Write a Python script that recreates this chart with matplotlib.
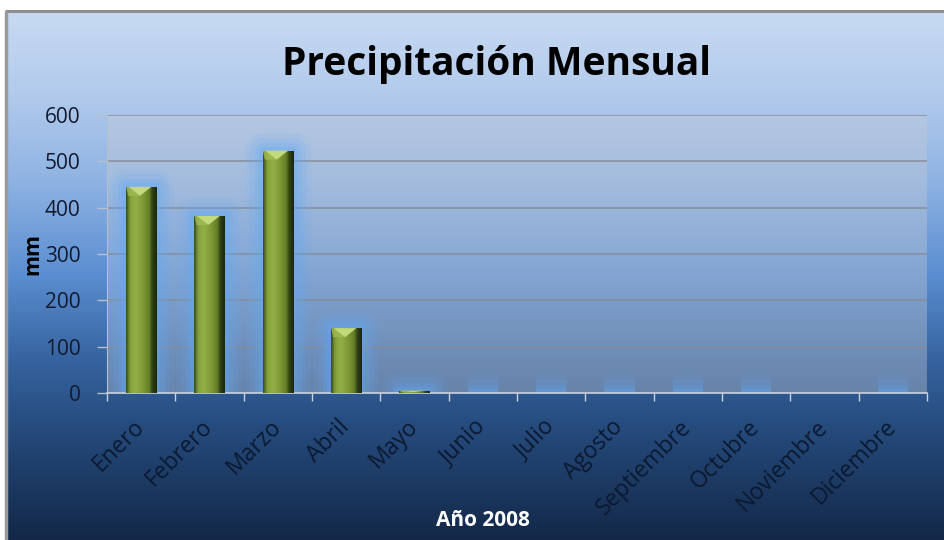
import numpy as np
import matplotlib
matplotlib.use("Agg")
import matplotlib.pyplot as plt
from matplotlib.colors import LinearSegmentedColormap
from matplotlib.patches import Rectangle, Polygon

plt.rcParams['font.family'] = ['Open Sans', 'DejaVu Sans']

# Monthly rainfall for 2008 (mm); November has no record
months = ["Enero", "Febrero", "Marzo", "Abril", "Mayo", "Junio", "Julio",
          "Agosto", "Septiembre", "Octubre", "Noviembre", "Diciembre"]
rain_mm = [445, 382, 523, 140, 5, 0, 0, 0, 0, 0, np.nan, 0]
y_ticks = [0, 100, 200, 300, 400, 500, 600]

W, H, DPI = 944, 540, 100
fig = plt.figure(figsize=(W / DPI, H / DPI), dpi=DPI, facecolor="white")

# ---- chart frame with vertical blue gradient ----
bg = fig.add_axes([0, 0, 1, 1], zorder=0)
bg.set_xlim(0, W)
bg.set_ylim(H, 0)
bg.axis("off")
frame_cmap = LinearSegmentedColormap.from_list(
    "frame",
    [(0.00, "#c7daf2"), (0.15, "#b3cbec"), (0.32, "#8fb3e3"),
     (0.50, "#5a8dd0"), (0.66, "#36639f"), (0.80, "#24497a"),
     (1.00, "#132848")])
grad = np.linspace(0, 1, 256).reshape(-1, 1)
bg.imshow(grad, cmap=frame_cmap, extent=[5, W, H, 11], aspect="auto",
          interpolation="bicubic")
bg.plot([5, W], [11, 11], color="#8e8e8e", lw=2.2, solid_capstyle="butt")
bg.plot([5.5, 5.5], [11, H], color="#9a9a9a", lw=2.5, solid_capstyle="butt")

# ---- plot area ----
ax_l, ax_r, ax_t, ax_b = 107, 927, 115, 393
ax = fig.add_axes([ax_l / W, 1 - ax_b / H, (ax_r - ax_l) / W, (ax_b - ax_t) / H],
                  zorder=1)
ax.patch.set_facecolor((0.78, 0.80, 0.84))
ax.patch.set_alpha(0.38)

x = np.arange(len(months))
bar_w = 0.44
bars = ax.bar(x, np.nan_to_num(rain_mm), width=bar_w, color="none",
              edgecolor="none", zorder=3)

px_per_unit = (ax_b - ax_t) / 600.0
bevel = 9 / px_per_unit

bar_cmap = LinearSegmentedColormap.from_list(
    "barface",
    [(0.00, "#34461a"), (0.07, "#5f7a27"), (0.14, "#86a23a"),
     (0.32, "#93af47"), (0.55, "#7f9a35"), (0.76, "#637d28"),
     (0.84, "#34451a"), (1.00, "#1a2510")])
hgrad = np.linspace(0, 1, 128).reshape(1, -1)

for rect, val in zip(bars, rain_mm):
    if np.isnan(val):
        continue
    x0, w, h = rect.get_x(), rect.get_width(), rect.get_height()
    # soft blue halo
    for lw, a in [(26, 0.10), (19, 0.14), (12, 0.18), (6, 0.24)]:
        ax.add_patch(Rectangle((x0, 0), w, h, facecolor="none",
                               edgecolor="#62aaf7", lw=lw, alpha=a,
                               joinstyle="round", zorder=2))
    if h <= 0:
        continue
    face = Rectangle((x0, 0), w, h, facecolor="none", edgecolor="none", zorder=3)
    ax.add_patch(face)
    im = ax.imshow(hgrad, cmap=bar_cmap, extent=[x0, x0 + w, 0, h],
                   aspect="auto", interpolation="bicubic", zorder=4)
    im.set_clip_path(face)
    d = min(bevel, h * 0.6)
    ax.add_patch(Polygon([(x0 + w * 0.07, h), (x0 + w * 0.84, h),
                          (x0 + w * 0.46, h - d)], closed=True,
                         facecolor="#c3da7c", edgecolor="none", zorder=5))
    ax.add_patch(Polygon([(x0, h), (x0 + w * 0.07, h), (x0 + w * 0.46, h - d),
                          (x0 + w * 0.07, h - d)], closed=True,
                         facecolor="#9fbb52", edgecolor="none", zorder=5, alpha=0.8))

ax.set_xlim(-0.5, len(months) - 0.5)
ax.set_ylim(0, 600)
ax.set_yticks(y_ticks)
ax.set_yticklabels([str(v) for v in y_ticks], fontsize=15, color="#131a2e")
ax.yaxis.grid(True, color="#878d98", lw=1.1)
ax.set_axisbelow(True)

ax.set_xticks(x)
ax.set_xticklabels(months, rotation=45, ha="right", va="center",
                   rotation_mode="anchor", fontsize=16.5, color="#0c1930")
ax.tick_params(axis="x", which="major", length=0, pad=22)
ax.set_xticks(np.arange(-0.5, len(months) + 0.5, 1), minor=True)
ax.tick_params(axis="x", which="minor", length=6, color="#c9d2e0", width=1)
ax.tick_params(axis="y", length=7, color="#b7c1d0", width=1, pad=12)

for s in ["top", "right"]:
    ax.spines[s].set_visible(False)
ax.spines["left"].set_color("#b5bfce")
ax.spines["bottom"].set_color("#c9d2e0")
ax.spines["bottom"].set_linewidth(1.2)

ax.set_ylabel("mm", fontsize=15.5, fontweight="bold", color="black", labelpad=1)

fig.text(497 / W, 1 - 65 / H, "Precipitación Mensual", ha="center", va="center",
         fontsize=28, fontweight="bold", color="black")
fig.text(483 / W, 1 - 521 / H, "Año 2008", ha="center", va="center",
         fontsize=15, fontweight="bold", color="white")

fig.savefig("out.png", dpi=DPI, facecolor=fig.get_facecolor())
